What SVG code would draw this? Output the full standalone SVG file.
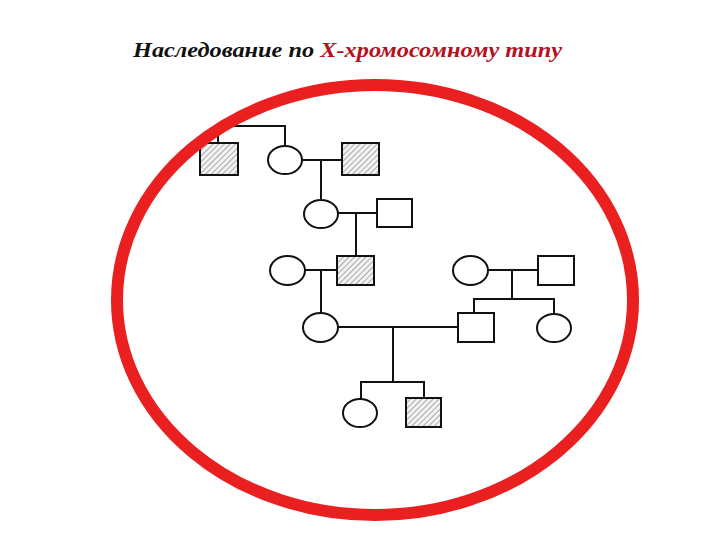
<svg xmlns="http://www.w3.org/2000/svg" width="720" height="540" viewBox="0 0 720 540">
<style>
.ln{fill:none;stroke:#111;stroke-width:2}
.f{fill:#fff;stroke:#111;stroke-width:2}
.h{fill:url(#hatch);stroke:#111;stroke-width:2}
.t{font-family:"Liberation Serif","Times New Roman",serif;font-size:22px;font-weight:bold;font-style:italic}
</style>
<defs>
<pattern id="hatch" patternUnits="userSpaceOnUse" width="4" height="4" patternTransform="rotate(45)">
<rect width="4" height="4" fill="#f2f2f2"/>
<line x1="0" y1="0" x2="0" y2="4" stroke="#7a7a7a" stroke-width="1.2"/>
</pattern>
</defs>
<rect width="720" height="540" fill="#fff"/>
<text class="t" x="133" y="57" textLength="429" lengthAdjust="spacingAndGlyphs"><tspan fill="#111">Наследование по </tspan><tspan fill="#b8101e">X-хромосомному типу</tspan></text>
<g id="connectors">
<path class="ln" d="M218,143 V126 H285 V146"/>
<path class="ln" d="M302,160 H342"/>
<path class="ln" d="M321,160 V200"/>
<path class="ln" d="M338,213 H377"/>
<path class="ln" d="M356,213 V256"/>
<path class="ln" d="M305,270 H337"/>
<path class="ln" d="M321,270 V313"/>
<path class="ln" d="M488,270 H538"/>
<path class="ln" d="M512,270 V299"/>
<path class="ln" d="M474,313 V299 H554 V314"/>
<path class="ln" d="M338,327 H458"/>
<path class="ln" d="M393,327 V382"/>
<path class="ln" d="M361,399 V382 H424 V398"/>
</g>
<g id="n1"><rect class="h" x="200" y="143" width="38" height="32"/></g>
<g id="n2"><ellipse class="f" cx="285" cy="160" rx="17" ry="14"/></g>
<g id="n3"><rect class="h" x="342" y="143" width="37" height="32"/></g>
<g id="n4"><ellipse class="f" cx="321" cy="214" rx="17" ry="14"/></g>
<g id="n5"><rect class="f" x="377" y="199" width="35" height="28"/></g>
<g id="n6"><ellipse class="f" cx="287.5" cy="270.5" rx="17.5" ry="14.5"/></g>
<g id="n7"><rect class="h" x="337" y="256" width="37" height="29"/></g>
<g id="n8"><ellipse class="f" cx="470.5" cy="270.5" rx="17.5" ry="14.5"/></g>
<g id="n9"><rect class="f" x="538" y="256" width="36" height="29"/></g>
<g id="n10"><ellipse class="f" cx="320.5" cy="327.5" rx="17.5" ry="14.5"/></g>
<g id="n11"><rect class="f" x="458" y="313" width="36" height="29"/></g>
<g id="n12"><ellipse class="f" cx="554" cy="328" rx="17" ry="14"/></g>
<g id="n13"><ellipse class="f" cx="360" cy="413" rx="17" ry="14"/></g>
<g id="n14"><rect class="h" x="406" y="398" width="35" height="29"/></g>
<ellipse cx="375" cy="300" rx="258" ry="215" fill="none" stroke="#ea1f1f" stroke-width="12"/>
</svg>
